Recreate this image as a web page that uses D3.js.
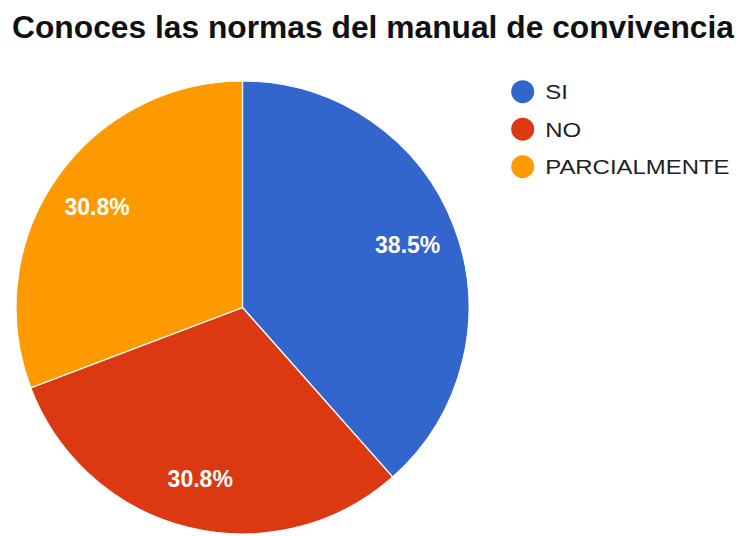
<!DOCTYPE html>
<html><head><meta charset="utf-8">
<script src="https://cdn.jsdelivr.net/npm/d3@7"></script>
<style>body{margin:0;background:#fff}svg{display:block}</style>
</head><body>
<svg id="chart" width="745" height="536"></svg>
<script>
const title = "Conoces las normas del manual de convivencia";
const categories = ["SI", "NO", "PARCIALMENTE"];
const values = [5, 4, 4];
const colors = ["#3366cc", "#dc3912", "#ff9900"];

const svg = d3.select("#chart");
const cx = 242.5, cy = 307.5, R = 226.5;
const FONT = "Liberation Sans, Arial, sans-serif";

svg.append("text").attr("x", 12).attr("y", 37.5)
  .attr("font-family", FONT)
  .attr("font-weight", "bold").attr("font-size", 32).attr("fill", "#111")
  .attr("textLength", 722).attr("lengthAdjust", "spacingAndGlyphs")
  .text(title);

const pie = d3.pie().sort(null).value(d => d)(values);
const arc = d3.arc().innerRadius(0).outerRadius(R);
const g = svg.append("g").attr("transform", `translate(${cx},${cy})`);
g.selectAll("path").data(pie).join("path")
  .attr("d", arc).attr("fill", (d, i) => colors[i])
  .attr("stroke", "#fff").attr("stroke-width", 1.2);

const total = d3.sum(values);
const fmt = d3.format(".1%");
const labelArc = d3.arc().innerRadius(R * 0.78).outerRadius(R * 0.78);
g.selectAll("text.lbl").data(pie).join("text").attr("class", "lbl")
  .attr("transform", d => `translate(${labelArc.centroid(d)})`)
  .attr("text-anchor", "middle").attr("dy", "0.36em")
  .attr("font-family", FONT)
  .attr("font-weight", "bold").attr("font-size", 23).attr("fill", "#fff")
  .text(d => fmt(d.value / total));

const legend = svg.append("g");
const ly = d3.scalePoint().domain(categories).range([91.7, 166.7]);
const items = legend.selectAll("g").data(categories).join("g")
  .attr("transform", d => `translate(522.7,${ly(d)})`);
items.append("circle").attr("r", 11.5).attr("fill", (d, i) => colors[i]);
items.append("text").attr("transform", "translate(22.5,7.5) scale(1.14,1)")
  .attr("font-family", FONT)
  .attr("font-size", 21).attr("fill", "#222").text(d => d);
</script>
</body></html>
